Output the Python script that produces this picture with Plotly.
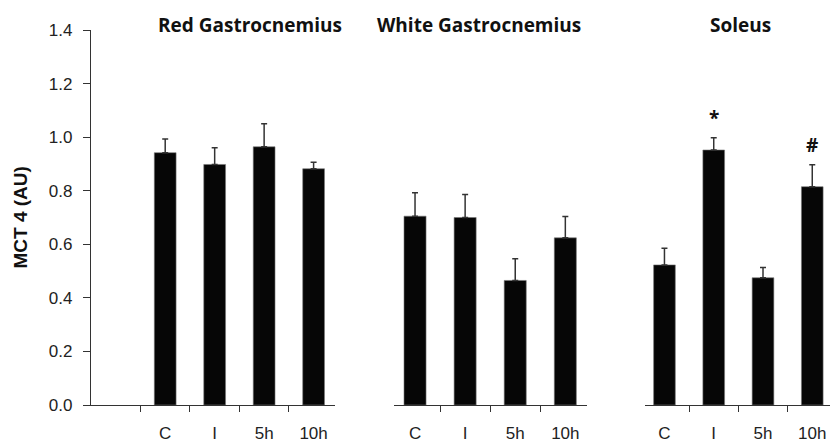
import plotly.graph_objects as go

# ---- data ----
groups = ["C", "I", "5h", "10h"]
panel_titles = ["Red Gastrocnemius", "White Gastrocnemius", "Soleus"]
red_gastro = [0.942, 0.898, 0.964, 0.882]
red_gastro_err = [0.051, 0.062, 0.086, 0.024]
white_gastro = [0.705, 0.700, 0.465, 0.624]
white_gastro_err = [0.087, 0.086, 0.081, 0.080]
soleus = [0.523, 0.952, 0.475, 0.815]
soleus_err = [0.062, 0.046, 0.038, 0.082]
soleus_marks = ["", "*", "", "#"]
y_ticks = [0.0, 0.2, 0.4, 0.6, 0.8, 1.0, 1.2, 1.4]
y_title = "MCT 4 (AU)"

values = [red_gastro, white_gastro, soleus]
errors = [red_gastro_err, white_gastro_err, soleus_err]

fig = go.Figure()

BAR = "#060606"
AX = "#333333"
TXT = "#222222"

for i, (vals, errs) in enumerate(zip(values, errors)):
    xa = "x" if i == 0 else f"x{i+1}"
    fig.add_trace(go.Bar(
        x=groups, y=vals, xaxis=xa, yaxis="y",
        marker=dict(color=BAR, line=dict(width=0.6, color="#777777")),
        width=0.44,
        error_y=dict(type="data", array=errs, arrayminus=[0]*len(errs),
                     symmetric=False, color=AX, thickness=1.5, width=3),
        showlegend=False,
    ))

# significance marks on soleus
for g, m, v, e in zip(groups, soleus_marks, soleus, soleus_err):
    if m:
        fig.add_annotation(x=g, y=v + e, xref="x3", yref="y", text=f"<b>{m}</b>",
                           showarrow=False, yanchor="bottom", yshift=5,
                           font=dict(family="Open Sans", size=19, color="#111111"))

title_x = [0.215, 0.525, 0.879]
for t, xp in zip(panel_titles, title_x):
    fig.add_annotation(x=xp, y=1.013, xref="paper", yref="paper", text=f"<b>{t}</b>",
                       showarrow=False, xanchor="center", yanchor="middle",
                       font=dict(family="Open Sans", size=19, color="#111111"))

fig.add_annotation(x=-0.096, y=0.5, xref="paper", yref="paper", text=f"<b>{y_title}</b>",
                   textangle=-90, showarrow=False, xanchor="center", yanchor="middle",
                   font=dict(family="Liberation Sans, Arial", size=19, color="#111111"))

xcommon = dict(
    type="category", categoryorder="array", categoryarray=groups,
    showline=True, linecolor=AX, linewidth=1.3,
    ticks="outside", tickson="boundaries", ticklen=6, tickcolor=AX, tickwidth=1.3,
    tickfont=dict(family="Liberation Sans, Arial", size=17, color=TXT),
    ticklabelstandoff=12,
    showgrid=False, zeroline=False, anchor="y", fixedrange=True,
)

fig.update_layout(
    width=830, height=443,
    margin=dict(l=91, r=0, t=30, b=38),
    paper_bgcolor="white", plot_bgcolor="white",
    xaxis=dict(xcommon, domain=[0.0, 0.330], range=[-1.5, 3.43]),
    xaxis2=dict(xcommon, domain=[0.410, 0.671], range=[-0.42, 3.43]),
    xaxis3=dict(xcommon, domain=[0.750, 1.0], range=[-0.39, 3.36]),
    yaxis=dict(
        range=[0, 1.4], tickvals=y_ticks, tickformat=".1f",
        showline=True, linecolor=AX, linewidth=1.3,
        ticks="outside", ticklen=7, tickcolor=AX, tickwidth=1.3,
        tickfont=dict(family="Liberation Sans, Arial", size=17, color=TXT),
        ticklabelstandoff=7,
        showgrid=False, zeroline=False,
        fixedrange=True,
    ),
)

fig.write_html("out.html", config={"displayModeBar": False},
               post_script="document.body.style.margin='0px';")
